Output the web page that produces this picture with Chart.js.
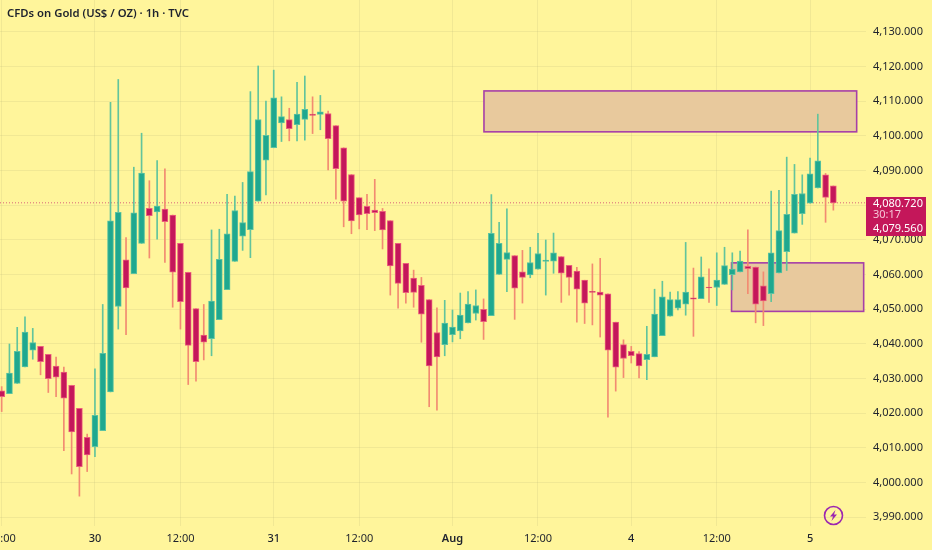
<!DOCTYPE html>
<html>
<head>
<meta charset="utf-8">
<title>CFDs on Gold</title>
<script src="https://cdn.jsdelivr.net/npm/chart.js@4"></script>
<style>
html, body { margin: 0; padding: 0; background: #fff59b; }
#wrap { position: relative; width: 932px; height: 550px; overflow: hidden; font-family: "Noto Sans", sans-serif; }
#title { position: absolute; left: 7px; top: 5px; font-size: 11.3px; font-weight: 600; color: #1e222d; white-space: nowrap; }
#tag { position: absolute; left: 866px; top: 197px; width: 60px; height: 39px; background: #c4175a; color: #fff; font-size: 11px; line-height: 13px; box-sizing: border-box; }
#tag div { position: absolute; left: 7px; white-space: nowrap; }
#tag .cd { color: #f6c6d6; }
#bolt { position: absolute; left: 823px; top: 505px; }
</style>
</head>
<body>
<div id="wrap">
    <canvas id="graph" width="932" height="550"></canvas>
    <div id="title">CFDs on Gold (US$ / OZ) · 1h · TVC</div>
    <div id="tag"><div style="top:-1px">4,080.720</div><div class="cd" style="top:10px">30:17</div><div style="top:24px">4,079.560</div></div>
    <svg id="bolt" width="21" height="21" viewBox="0 0 21 21">
        <circle cx="10.5" cy="10.5" r="9" fill="none" stroke="#9c27b0" stroke-width="1.6"/>
        <path d="M12.5 5 L7 11.5 H10 L8.5 16 L14 9.5 H11 Z" fill="#9c27b0"/>
    </svg>
</div>
<script>
// hourly candles, left to right
var opens = [4026.5,4025.7,4028.6,4033.4,4038.2,4039.3,4037.0,4033.6,4031.9,4028.1,4021.4,4013.1,4010.4,4015.0,4026.2,4050.8,4064.3,4060.3,4069.0,4079.1,4078.1,4078.9,4077.2,4069.0,4060.7,4050.2,4042.6,4041.5,4047.0,4055.7,4063.8,4071.1,4073.0,4081.2,4093.0,4096.6,4103.8,4104.7,4103.3,4104.8,4106.3,4106.2,4106.5,4103.0,4096.6,4088.9,4082.2,4079.7,4078.6,4078.3,4075.6,4069.0,4063.3,4059.0,4056.9,4052.8,4043.3,4039.8,4042.7,4043.8,4046.1,4048.8,4050.0,4048.2,4060.1,4064.4,4065.5,4060.8,4059.9,4061.6,4063.8,4063.9,4065.2,4062.7,4061.0,4058.4,4055.2,4055.0,4054.5,4046.3,4039.8,4037.9,4037.2,4035.5,4036.3,4042.4,4048.0,4050.3,4051.5,4053.3,4053.1,4056.4,4056.3,4057.2,4060.0,4060.8,4062.4,4062.2,4056.8,4054.5,4060.5,4066.6,4072.0,4077.6,4080.6,4085.0,4088.8,4085.6];
var highs = [4027.7,4040.0,4044.8,4047.8,4044.5,4039.3,4037.0,4036.2,4033.3,4028.1,4021.4,4014.0,4032.8,4051.4,4109.7,4116.3,4070.7,4091.0,4100.8,4087.1,4092.9,4090.5,4077.2,4069.0,4060.7,4050.2,4051.4,4072.9,4073.1,4083.2,4082.7,4086.6,4112.8,4120.2,4110.1,4119.0,4111.3,4108.0,4115.5,4117.3,4111.3,4111.7,4107.2,4103.0,4096.6,4088.9,4082.2,4083.2,4087.5,4079.1,4075.6,4069.0,4063.3,4061.3,4059.2,4052.8,4050.4,4052.6,4049.8,4054.7,4055.1,4055.6,4053.0,4083.1,4075.1,4079.0,4065.5,4067.0,4067.9,4071.9,4070.0,4072.0,4065.2,4062.7,4062.1,4058.4,4063.1,4064.7,4054.5,4046.3,4041.2,4039.3,4037.8,4045.1,4055.8,4058.1,4055.0,4055.1,4069.3,4061.9,4065.1,4061.7,4066.3,4067.9,4066.3,4066.8,4072.9,4062.2,4060.8,4084.1,4084.3,4093.9,4091.8,4088.8,4093.6,4106.3,4089.2,4085.6];
var lows = [4020.5,4025.7,4028.6,4033.4,4035.6,4031.1,4026.0,4024.8,4009.2,4002.5,3996.1,4003.2,4007.5,4015.0,4026.2,4044.3,4042.7,4060.3,4069.0,4064.8,4070.2,4063.5,4050.6,4044.3,4028.3,4029.3,4035.4,4036.6,4047.0,4055.7,4063.8,4067.0,4064.9,4081.2,4083.0,4096.6,4098.4,4098.6,4098.6,4098.8,4100.7,4101.8,4090.2,4081.8,4073.8,4071.8,4073.2,4073.0,4072.7,4067.4,4054.1,4050.3,4051.8,4050.6,4040.5,4021.9,4020.9,4036.6,4040.6,4041.5,4046.1,4046.9,4041.3,4048.2,4060.1,4055.1,4047.1,4051.8,4059.1,4061.6,4054.1,4060.4,4052.0,4054.1,4046.3,4045.9,4045.5,4042.0,4018.9,4026.4,4030.3,4034.5,4030.2,4029.7,4036.3,4042.4,4048.0,4049.8,4048.3,4042.2,4053.1,4052.0,4051.1,4057.2,4055.6,4060.8,4054.5,4046.1,4045.3,4052.2,4060.5,4061.2,4072.0,4074.5,4080.6,4085.0,4075.1,4078.6];
var closes = [4024.8,4031.6,4037.9,4043.4,4040.4,4034.9,4030.0,4030.4,4024.4,4014.6,4004.6,4008.0,4019.4,4037.3,4075.5,4078.0,4056.2,4077.8,4089.3,4077.0,4079.8,4075.3,4060.7,4052.2,4039.6,4034.9,4040.5,4052.4,4064.4,4071.8,4078.5,4075.0,4089.7,4104.7,4100.2,4111.0,4105.6,4102.1,4106.3,4107.7,4105.9,4107.0,4099.2,4090.6,4081.2,4075.5,4077.2,4077.6,4077.9,4072.9,4062.5,4057.5,4054.8,4054.9,4048.6,4033.7,4036.3,4046.0,4044.9,4048.3,4051.5,4051.1,4046.4,4071.9,4069.0,4066.4,4056.1,4059.2,4063.5,4066.1,4064.2,4066.3,4060.4,4059.2,4055.8,4051.8,4054.9,4054.1,4038.2,4033.3,4035.8,4036.6,4033.7,4037.0,4048.6,4053.6,4052.8,4052.8,4055.0,4052.9,4059.4,4056.2,4058.4,4062.6,4061.6,4063.9,4061.7,4051.5,4052.4,4066.3,4072.7,4077.4,4083.2,4083.4,4089.1,4092.8,4082.3,4080.72];

// x axis labels and the candle they sit on
var tickIndex = [0,12,23,35,46,58,69,81,92,104];
var tickLabels = ["12:00","30","12:00","31","12:00","Aug","12:00","4","12:00","5"];

// marked zones: first candle, last candle, top price, bottom price
var zoneStart = [62.05,93.9];
var zoneEnd = [110.0,110.9];
var zoneTop = [4113.0,4063.4];
var zoneBottom = [4101.2,4049.4];

var lastPrice = 4080.72;

var xMin = -0.215, xMax = 111.2;
var upColor = '#1fa88f', downColor = '#c4175a';
var upWick = '#62c49c', downWick = '#f28b72';

function isUp(i) {
    return closes[i] >= opens[i];
}

var wickData = [], bodyData = [];
for (let i = 0; i < opens.length; i++) {
    wickData.push({x: i, y: [lows[i], highs[i]]});
    bodyData.push({x: i, y: [opens[i], closes[i]]});
}

var zonesPlugin = {
    id: 'zones',
    beforeDatasetsDraw: function(chart) {
        var ctx = chart.ctx, sx = chart.scales.x, sy = chart.scales.y;
        ctx.save();
        for (let i = 0; i < zoneStart.length; i++) {
            var l = sx.getPixelForValue(zoneStart[i]);
            var r = sx.getPixelForValue(zoneEnd[i]);
            var t = sy.getPixelForValue(zoneTop[i]);
            var b = sy.getPixelForValue(zoneBottom[i]);
            ctx.fillStyle = '#e8c99d';
            ctx.fillRect(l, t, r - l, b - t);
            ctx.strokeStyle = '#a63fa8';
            ctx.lineWidth = 1.6;
            ctx.strokeRect(l, t, r - l, b - t);
        }
        ctx.restore();
    }
};

var chart = new Chart(document.getElementById('graph'), {
    type: 'bar',
    data: {
        datasets: [
            {
                type: 'line',
                data: [{x: xMin, y: lastPrice}, {x: xMax, y: lastPrice}],
                borderColor: '#d9627a',
                borderWidth: 1,
                borderDash: [1, 2],
                pointRadius: 0,
                order: 3
            },
            {
                data: wickData,
                barThickness: 1,
                backgroundColor: function(c) { return isUp(c.dataIndex) ? upWick : downWick; },
                order: 2
            },
            {
                data: bodyData,
                barThickness: 6,
                borderWidth: 1,
                borderSkipped: false,
                borderColor: function(c) { return isUp(c.dataIndex) ? '#5cc3a0' : '#ec5f7c'; },
                backgroundColor: function(c) { return isUp(c.dataIndex) ? upColor : downColor; },
                order: 1
            }
        ]
    },
    options: {
        responsive: false,
        animation: false,
        devicePixelRatio: 1,
        layout: {autoPadding: false},
        datasets: {bar: {grouped: false}},
        plugins: {legend: {display: false}, tooltip: {enabled: false}},
        scales: {
            x: {
                type: 'linear',
                min: xMin,
                max: xMax,
                offset: false,
                grid: {offset: false, color: 'rgba(170,170,110,0.16)', drawTicks: false},
                border: {display: false},
                afterBuildTicks: function(axis) {
                    axis.ticks = tickIndex.map(function(v) { return {value: v}; });
                },
                afterFit: function(axis) {
                    axis.height = 24;
                    axis.paddingLeft = 0;
                    axis.paddingRight = 0;
                },
                ticks: {
                    autoSkip: false,
                    maxRotation: 0,
                    padding: 6,
                    color: '#1e222d',
                    font: function(c) {
                        var label = c.tick ? tickLabels[tickIndex.indexOf(c.tick.value)] : "";
                        var weight = label == "Aug" ? '600' : (label == "12:00" ? '400' : '500');
                        return {family: 'Noto Sans', size: 11, weight: weight};
                    },
                    callback: function(v) { return tickLabels[tickIndex.indexOf(v)]; }
                }
            },
            y: {
                type: 'linear',
                position: 'right',
                min: 3987.49,
                max: 4139.23,
                grid: {color: 'rgba(170,170,110,0.16)', drawTicks: false},
                border: {display: false},
                afterFit: function(axis) {
                    axis.width = 66;
                    axis.paddingTop = 0;
                    axis.paddingBottom = 0;
                },
                ticks: {
                    stepSize: 10,
                    includeBounds: false,
                    padding: 7,
                    color: '#1e222d',
                    font: {family: 'Noto Sans', size: 11},
                    callback: function(v) { return v.toLocaleString('en-US', {minimumFractionDigits: 3, maximumFractionDigits: 3}); }
                }
            }
        }
    },
    plugins: [zonesPlugin]
});
</script>
</body>
</html>
